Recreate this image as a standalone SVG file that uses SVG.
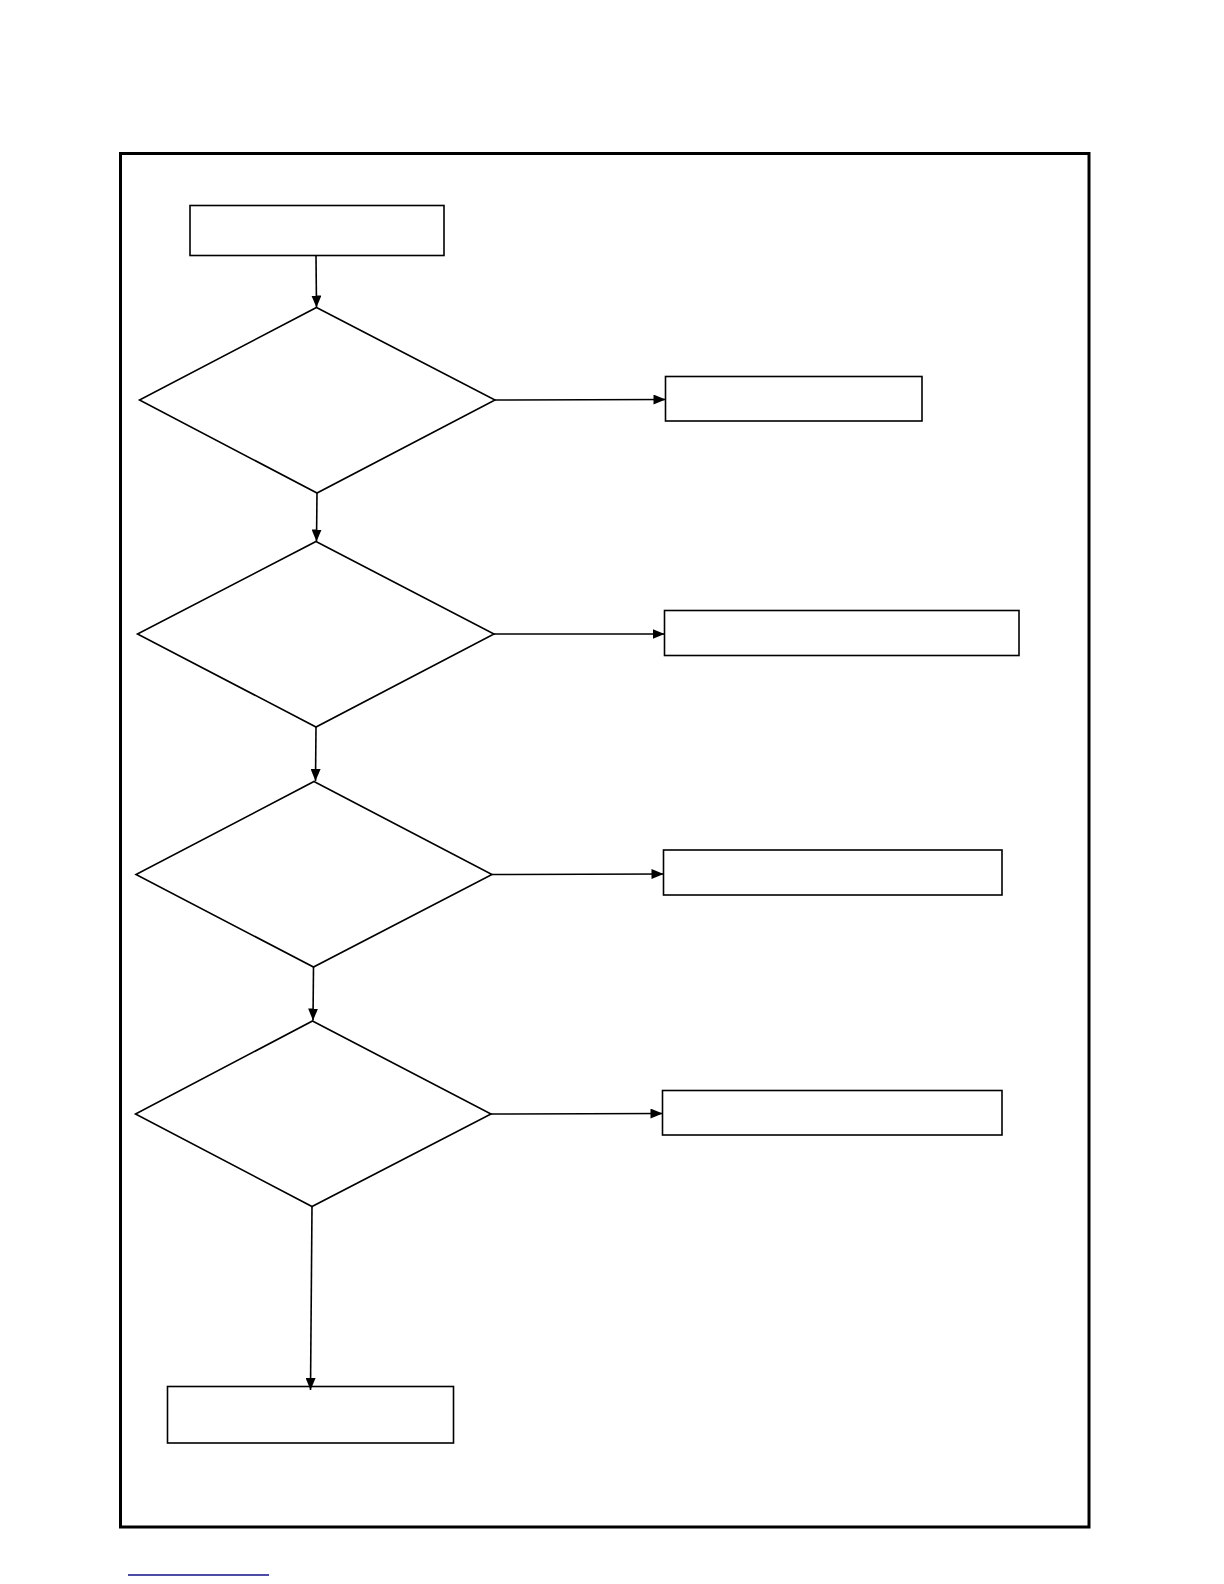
<svg xmlns="http://www.w3.org/2000/svg" width="1224" height="1584" viewBox="0 0 1224 1584">
<style>
.node{fill:#fff;stroke:#000;stroke-width:1.6}
.edge{fill:none;stroke:#000;stroke-width:1.6}
.frame{fill:none;stroke:#000;stroke-width:3}
</style>
<defs>
<marker id="arr" viewBox="0 0 12 10" refX="12" refY="5" markerWidth="12" markerHeight="10" markerUnits="userSpaceOnUse" orient="auto">
<path d="M0,0 L12,5 L0,10 z" fill="#000"/>
</marker>
</defs>
<rect width="1224" height="1584" fill="#fff"/>
<rect class="frame" x="120.5" y="153.5" width="968.5" height="1373.5"/>
<g id="start"><rect class="node" x="190" y="205.5" width="254" height="50"/></g>
<g id="d1"><polygon class="node" points="316.5,307.5 495,400 317,493 139.5,400"/></g>
<g id="r1"><rect class="node" x="665.5" y="376.5" width="256.5" height="44.5"/></g>
<g id="d2"><polygon class="node" points="316,541.5 494,634 316,727 137.5,634"/></g>
<g id="r2"><rect class="node" x="664.5" y="610.5" width="354.5" height="45"/></g>
<g id="d3"><polygon class="node" points="314,781.5 492,874.5 313.5,967 136,874.5"/></g>
<g id="r3"><rect class="node" x="663.5" y="850" width="338.5" height="45"/></g>
<g id="d4"><polygon class="node" points="312.5,1021 491,1114 312,1206.5 135.5,1114"/></g>
<g id="r4"><rect class="node" x="662.5" y="1090.5" width="339.5" height="44.5"/></g>
<g id="end"><rect class="node" x="167.5" y="1386.5" width="286" height="56.5"/></g>
<g id="connectors">
<line class="edge" x1="316" y1="255.5" x2="316.5" y2="307.5" marker-end="url(#arr)"/>
<line class="edge" x1="495" y1="400" x2="665.5" y2="399.5" marker-end="url(#arr)"/>
<line class="edge" x1="317" y1="493" x2="316.5" y2="541.5" marker-end="url(#arr)"/>
<line class="edge" x1="494" y1="634" x2="664.5" y2="634" marker-end="url(#arr)"/>
<line class="edge" x1="316" y1="727" x2="315.5" y2="781" marker-end="url(#arr)"/>
<line class="edge" x1="492" y1="874.5" x2="663.5" y2="874" marker-end="url(#arr)"/>
<line class="edge" x1="313.5" y1="967" x2="313" y2="1020.5" marker-end="url(#arr)"/>
<line class="edge" x1="491" y1="1114" x2="662.5" y2="1113.5" marker-end="url(#arr)"/>
<line class="edge" x1="312" y1="1206.5" x2="310.5" y2="1390" marker-end="url(#arr)"/>
</g>
<line x1="128" y1="1575" x2="269" y2="1575" stroke="#10108a" stroke-width="1.5"/>
</svg>
